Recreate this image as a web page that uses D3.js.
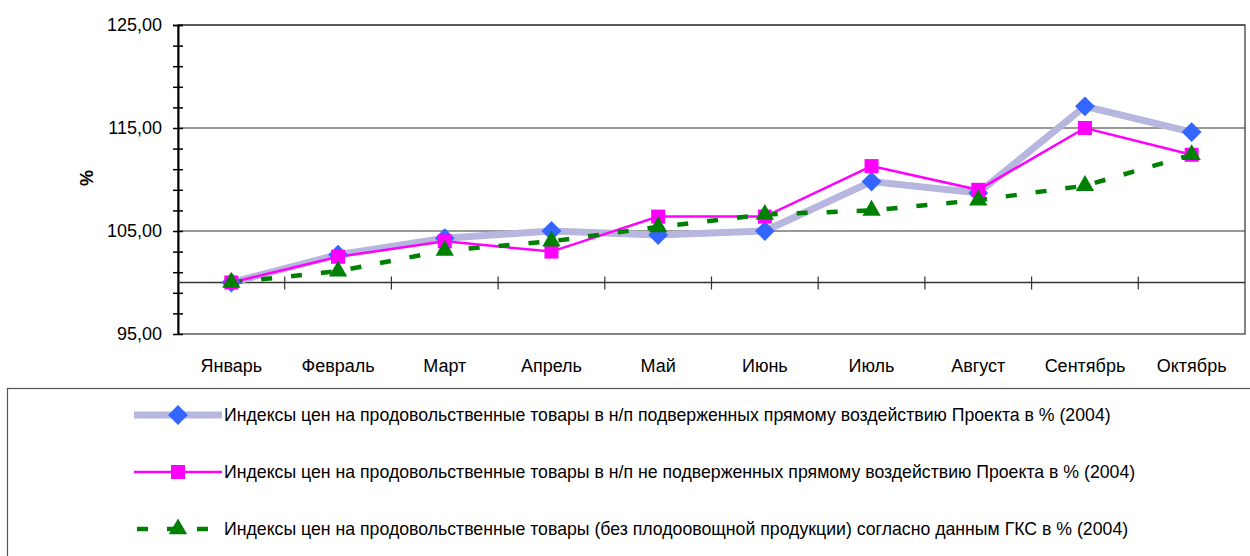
<!DOCTYPE html>
<html lang="ru">
<head>
<meta charset="UTF-8">
<title>Индексы цен на продовольственные товары</title>
<script src="https://d3js.org/d3.v7.min.js"></script>
<style>
  body { margin: 0; background: #fff; }
  svg text { font-family: "Liberation Sans Narrow", "Arial Narrow", "Liberation Sans", Arial, sans-serif; fill: #000; }
</style>
</head>
<body>
<div id="chart"></div>
<script>
const months = ["Январь", "Февраль", "Март", "Апрель", "Май", "Июнь", "Июль", "Август", "Сентябрь", "Октябрь"];
const affected = [100.0, 102.7, 104.3, 105.0, 104.6, 105.0, 109.8, 108.7, 117.1, 114.6];
const notAffected = [100.0, 102.5, 104.0, 103.0, 106.4, 106.4, 111.3, 109.0, 115.0, 112.4];
const gks = [100.0, 101.1, 103.1, 104.0, 105.4, 106.6, 107.0, 108.0, 109.4, 112.4];
const seriesNames = [
  "Индексы цен на продовольственные товары в н/п подверженных прямому воздействию Проекта в % (2004)",
  "Индексы цен на продовольственные товары в н/п не подверженных прямому воздействию Проекта в % (2004)",
  "Индексы цен на продовольственные товары (без плодоовощной продукции) согласно данным ГКС в % (2004)"
];
const yLabels = [95, 105, 115, 125];

const W = 1250, H = 556;
const plot = {left: 178, right: 1245, top: 25, bottom: 334};

const svg = d3.select("#chart").append("svg")
  .attr("width", W).attr("height", H);

const x = d3.scaleBand().domain(months).range([plot.left, plot.right]);
const y = d3.scaleLinear().domain([95, 125]).range([plot.bottom, plot.top]);

// plot area border
svg.append("rect")
  .attr("x", plot.left).attr("y", plot.top)
  .attr("width", plot.right - plot.left).attr("height", plot.bottom - plot.top)
  .attr("fill", "none").attr("stroke", "#333").attr("stroke-width", 1.2);

// gridlines
svg.append("g").selectAll("line").data(yLabels.slice(1))
  .join("line")
  .attr("x1", plot.left).attr("x2", plot.right)
  .attr("y1", d => y(d)).attr("y2", d => y(d))
  .attr("stroke", "#333").attr("stroke-width", 1.2);

// y axis with minor ticks
const yAxis = svg.append("g")
  .attr("transform", `translate(${plot.left},0)`)
  .call(d3.axisLeft(y).tickValues(d3.range(95, 126, 2).concat([125])).tickSize(0).tickFormat(""));
yAxis.select(".domain").attr("stroke", "#000").attr("stroke-width", 2);
yAxis.selectAll(".tick line").attr("x1", -5).attr("x2", 5).attr("stroke", "#000").attr("stroke-width", 1.5);

svg.append("g").selectAll("text").data(yLabels)
  .join("text")
  .attr("x", plot.left - 16).attr("y", d => y(d))
  .attr("dy", "0.35em")
  .attr("text-anchor", "end")
  .style("font-size", "18px")
  .text(d => d3.format(".2f")(d).replace(".", ","));

// category axis crossing at 100
const xAxis = svg.append("g")
  .attr("transform", `translate(0,${y(100)})`);
xAxis.append("line")
  .attr("x1", plot.left).attr("x2", plot.right)
  .attr("stroke", "#333").attr("stroke-width", 1.5);
xAxis.selectAll(".tk").data(months.slice(1))
  .join("line")
  .attr("x1", d => x(d)).attr("x2", d => x(d))
  .attr("y1", -6).attr("y2", 7)
  .attr("stroke", "#333").attr("stroke-width", 1.2);

svg.append("g").selectAll("text").data(months)
  .join("text")
  .attr("x", d => x(d) + x.bandwidth() / 2)
  .attr("y", 372)
  .attr("text-anchor", "middle")
  .style("font-size", "18px")
  .text(d => d);

// y title
svg.append("text")
  .attr("transform", `translate(93,178) rotate(-90)`)
  .attr("text-anchor", "middle")
  .style("font-size", "18px")
  .style("font-weight", "bold")
  .text("%");

const line = d3.line()
  .x((d, i) => x(months[i]) + x.bandwidth() / 2)
  .y(d => y(d));

const series = [
  {values: affected, stroke: "#b6b6de", width: 7, dash: null, marker: d3.symbolDiamond2, size: 250, color: "#3366ff"},
  {values: notAffected, stroke: "#ff00ff", width: 2.5, dash: null, marker: d3.symbolSquare2, size: 250, color: "#ff00ff"},
  {values: gks, stroke: "#008000", width: 4.5, dash: "11,19", marker: d3.symbolTriangle2, size: 240, color: "#008000"}
];

series.forEach(s => {
  svg.append("path")
    .datum(s.values)
    .attr("d", line)
    .attr("fill", "none")
    .attr("stroke", s.stroke)
    .attr("stroke-width", s.width)
    .attr("stroke-dasharray", s.dash);
});

series.forEach(s => {
  svg.append("g").selectAll("path").data(s.values)
    .join("path")
    .attr("transform", (d, i) => `translate(${x(months[i]) + x.bandwidth() / 2},${y(d)})`)
    .attr("d", d3.symbol().type(s.marker).size(s.size))
    .attr("fill", s.color);
});

// legend
const legend = svg.append("g");
legend.append("rect")
  .attr("x", 7.5).attr("y", 388.5)
  .attr("width", W).attr("height", 200)
  .attr("fill", "none").attr("stroke", "#555").attr("stroke-width", 1.2);

const legendY = [415, 472, 529];
series.forEach((s, i) => {
  const g = legend.append("g").attr("transform", `translate(0,${legendY[i]})`);
  g.append("line")
    .attr("x1", i === 2 ? 137 : 134).attr("x2", 222)
    .attr("stroke", s.stroke).attr("stroke-width", s.width)
    .attr("stroke-dasharray", s.dash);
  g.append("path")
    .attr("transform", `translate(178,0)`)
    .attr("d", d3.symbol().type(s.marker).size(s.size))
    .attr("fill", s.color);
  g.append("text")
    .attr("x", 224).attr("dy", "0.35em")
    .style("font-size", "17.7px")
    .text(seriesNames[i]);
});
</script>
</body>
</html>
